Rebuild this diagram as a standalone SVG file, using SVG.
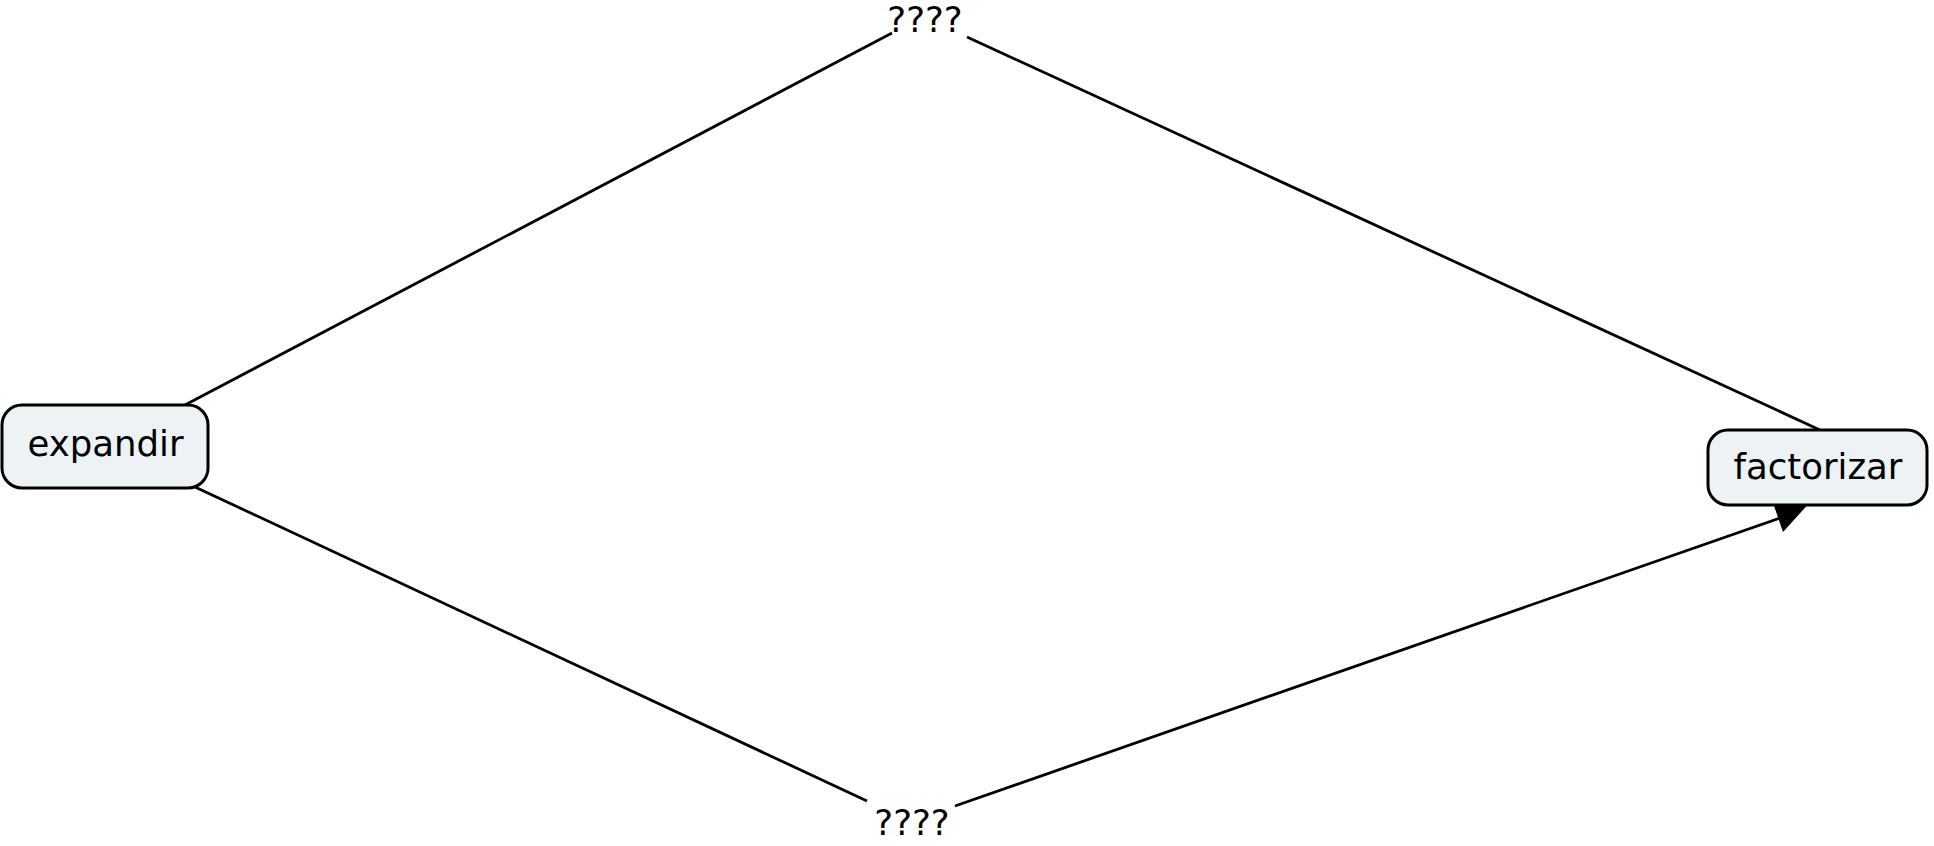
<svg xmlns="http://www.w3.org/2000/svg" width="1934" height="846" viewBox="0 0 1934 846">
<style>
.node rect{fill:#edf3f5;stroke:#000;stroke-width:3}
text{font-family:"DejaVu Sans",Verdana,sans-serif;font-size:35.5px;fill:#000;text-anchor:middle}
.conn line{stroke:#000;stroke-width:2.8}
</style>
<rect width="1934" height="846" fill="#fff"/>
<g id="connectors" class="conn">
<line x1="185" y1="405" x2="892" y2="33"/>
<line x1="967" y1="37" x2="1820" y2="430"/>
<line x1="195" y1="487" x2="867" y2="801"/>
<line x1="955" y1="806" x2="1780" y2="518"/>
<polygon points="1772,500 1812,500 1783,532" fill="#000"/>
</g>
<g id="lp1"><text x="925" y="32">????</text></g>
<g id="lp2"><text x="912" y="835">????</text></g>
<g id="expandir" class="node">
<rect x="2" y="405" width="206" height="83" rx="20"/>
<text x="105.5" y="456">expandir</text>
</g>
<g id="factorizar" class="node">
<rect x="1708" y="430" width="219" height="75" rx="20"/>
<text x="1818" y="479">factorizar</text>
</g>
</svg>
